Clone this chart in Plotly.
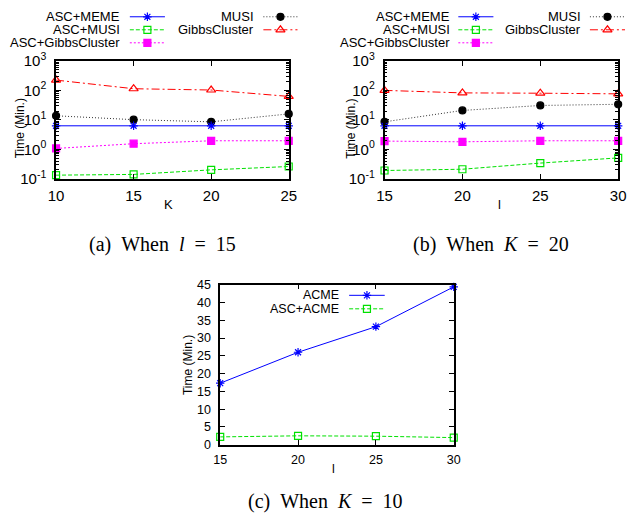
import plotly.graph_objects as go

W, H = 633, 525

# ---------------- data ----------------
K_vals = [10, 15, 20, 25]
a_asc_meme = [6.3, 6.3, 6.3, 6.3]
a_asc_musi = [0.132, 0.14, 0.2, 0.26]
a_asc_gibbs = [1.07, 1.55, 1.95, 1.95]
a_musi = [13.8, 10.2, 8.6, 16.0]
a_gibbs = [226, 115, 104, 63]

l_vals = [15, 20, 25, 30]
b_asc_meme = [6.3, 6.3, 6.3, 6.3]
b_asc_musi = [0.19, 0.21, 0.34, 0.51]
b_asc_gibbs = [1.9, 1.8, 1.95, 1.95]
b_musi = [8.6, 21, 31, 34]
b_gibbs = [101, 83, 81, 77]

c_acme = [17.3, 26.0, 33.2, 44.4]
c_asc_acme = [2.2, 2.5, 2.4, 2.0]

log_tickvals = [0.1, 1, 10, 100, 1000]
log_ticktext = ["10<sup>-1</sup>", "10<sup>0</sup>", "10<sup>1</sup>", "10<sup>2</sup>", "10<sup>3</sup>"]

# ---------------- styles ----------------
BLUE = "#0000ff"
GREEN = "#00e000"
MAGENTA = "#ff00ff"
DARK = "#333333"
RED = "#ff0000"
FONT = "Liberation Sans, Arial, sans-serif"
SERIF = "Liberation Serif, Times New Roman, serif"
LEG_AB = 13
TICK_AB = 15
TXT_C = 12.5

styles = {
    "ASC+MEME": dict(color=BLUE, dash="solid", symbol="asterisk-open", size=7),
    "ASC+MUSI": dict(color=GREEN, dash="4px,2px", symbol="square-open", size=7),
    "ASC+GibbsCluster": dict(color=MAGENTA, dash="2px,2px", symbol="square", size=7),
    "MUSI": dict(color=DARK, dash="1px,2px", symbol="circle", size=7),
    "GibbsCluster": dict(color=RED, dash="8px,3px,2px,3px", symbol="triangle-up-open", size=8),
    "ACME": dict(color=BLUE, dash="solid", symbol="asterisk-open", size=7),
    "ASC+ACME": dict(color=GREEN, dash="4px,2px", symbol="square-open", size=7),
}
marker_colors = {"MUSI": "#000000"}

fig = go.Figure()


def px_x(x):
    return x / W


def px_y(y):
    return 1 - y / H


def add_series(name, xs, ys, xa, ya):
    s = styles[name]
    mc = marker_colors.get(name, s["color"])
    fig.add_trace(go.Scatter(
        x=xs, y=ys, mode="lines+markers", name=name, showlegend=False,
        xaxis=xa, yaxis=ya, cliponaxis=False,
        line=dict(color=s["color"], dash=s["dash"], width=1),
        marker=dict(symbol=s["symbol"], size=s["size"], color=mc,
                    line=dict(color=mc, width=1.2)),
    ))


# subplot (a)
add_series("GibbsCluster", K_vals, a_gibbs, "x", "y")
add_series("MUSI", K_vals, a_musi, "x", "y")
add_series("ASC+GibbsCluster", K_vals, a_asc_gibbs, "x", "y")
add_series("ASC+MUSI", K_vals, a_asc_musi, "x", "y")
add_series("ASC+MEME", K_vals, a_asc_meme, "x", "y")
# subplot (b)
add_series("GibbsCluster", l_vals, b_gibbs, "x2", "y2")
add_series("MUSI", l_vals, b_musi, "x2", "y2")
add_series("ASC+GibbsCluster", l_vals, b_asc_gibbs, "x2", "y2")
add_series("ASC+MUSI", l_vals, b_asc_musi, "x2", "y2")
add_series("ASC+MEME", l_vals, b_asc_meme, "x2", "y2")
# subplot (c)
add_series("ACME", l_vals, c_acme, "x3", "y3")
add_series("ASC+ACME", l_vals, c_asc_acme, "x3", "y3")

# ---------------- legend keys (pixel overlay axis) ----------------
annotations = []


def legend_entry(name, text_right, y, x0, x1, size=LEG_AB):
    s = styles[name]
    mc = marker_colors.get(name, s["color"])
    fig.add_trace(go.Scatter(
        x=[x0, x1], y=[y, y], mode="lines", showlegend=False,
        xaxis="x4", yaxis="y4", cliponaxis=False, hoverinfo="skip",
        line=dict(color=s["color"], dash=s["dash"], width=1),
    ))
    fig.add_trace(go.Scatter(
        x=[(x0 + x1) / 2], y=[y], mode="markers", showlegend=False,
        xaxis="x4", yaxis="y4", cliponaxis=False, hoverinfo="skip",
        marker=dict(symbol=s["symbol"], size=s["size"], color=mc,
                    line=dict(color=mc, width=1.2)),
    ))
    annotations.append(dict(
        x=px_x(text_right), y=px_y(y), xref="paper", yref="paper",
        text=name, showarrow=False, xanchor="right", yanchor="middle",
        font=dict(family=FONT, size=size, color="black"),
    ))


# (a)
legend_entry("ASC+MEME", 117, 6, 125, 161)
legend_entry("ASC+MUSI", 117, 19.5, 125, 161)
legend_entry("ASC+GibbsCluster", 117, 33, 125, 161)
legend_entry("MUSI", 254, 6, 262, 297)
legend_entry("GibbsCluster", 254, 19.5, 262, 297)
# (b)
legend_entry("ASC+MEME", 455.5, 6, 462, 498)
legend_entry("ASC+MUSI", 455.5, 19.5, 462, 498)
legend_entry("ASC+GibbsCluster", 455.5, 33, 462, 498)
legend_entry("MUSI", 590, 6, 597, 633)
legend_entry("GibbsCluster", 590, 19.5, 597, 633)
# (c)
legend_entry("ACME", 341.5, 295, 350, 386.5, size=TXT_C)
legend_entry("ASC+ACME", 341.5, 309, 350, 386.5, size=TXT_C)

# ---------------- axes ----------------
def tf(size):
    return dict(family=FONT, size=size, color="black")


def lin_x(domain, rng, size):
    return dict(domain=domain, range=rng, dtick=5, tick0=rng[0], ticks="inside", ticklen=5,
                tickwidth=1, tickcolor="black", mirror="ticks", showline=True,
                linecolor="black", linewidth=1.5, showgrid=False, zeroline=False,
                tickfont=tf(size), ticklabelstandoff=3)


def log_y(domain, anchor):
    return dict(domain=domain, type="log", range=[-1, 3], tickvals=log_tickvals,
                ticktext=log_ticktext, ticks="inside", ticklen=5, tickwidth=1,
                tickcolor="black", mirror="ticks", showline=True, linecolor="black",
                linewidth=1.5, showgrid=False, zeroline=False, tickfont=tf(TICK_AB),
                anchor=anchor, ticklabelstandoff=5,
                minor=dict(ticks="inside", ticklen=3, tickcolor="black", dtick="D1",
                           showgrid=False))


ya = [px_y(174), px_y(52)]
fig.update_layout(
    xaxis=lin_x([px_x(49.3), px_x(288)], [10, 25], TICK_AB) | dict(anchor="y"),
    yaxis=log_y(ya, "x"),
    xaxis2=lin_x([px_x(386.3), px_x(626)], [15, 30], TICK_AB) | dict(anchor="y2"),
    yaxis2=log_y(ya, "x2"),
    xaxis3=lin_x([px_x(217.7), px_x(457.3)], [15, 30], TXT_C) | dict(anchor="y3"),
    yaxis3=dict(domain=[px_y(450), px_y(284)], range=[0, 45], dtick=5, ticks="inside",
                ticklen=5, tickwidth=1, tickcolor="black", mirror="ticks",
                showline=True, linecolor="black", linewidth=1.5, showgrid=False,
                zeroline=False, tickfont=tf(TXT_C), anchor="x3", ticklabelstandoff=5),
    xaxis4=dict(domain=[0, 1], range=[0, W], visible=False, anchor="y4", fixedrange=True),
    yaxis4=dict(domain=[0, 1], range=[H, 0], visible=False, anchor="x4", fixedrange=True),
)


def text_ann(x, y, text, size=13, family=FONT, angle=0):
    annotations.append(dict(x=px_x(x), y=px_y(y), xref="paper", yref="paper", text=text,
                            showarrow=False, xanchor="center", yanchor="middle",
                            textangle=angle, font=dict(family=family, size=size, color="black")))


text_ann(12, 122, "Time (Min.)", size=12, angle=-90)
text_ann(351, 122, "Time (Min.)", size=12, angle=-90)
text_ann(184, 367, "Time (Min.)", size=12, angle=-90)
text_ann(165, 201, "K")
text_ann(504, 201, "l")
text_ann(334, 475, "l", size=TXT_C)
sp = "&nbsp;"
text_ann(158, 242, f"(a){sp*2}When{sp*2}<i>l</i>{sp*2}={sp*2}15", size=20, family=SERIF)
text_ann(496, 242, f"(b){sp*2}When{sp*2}<i>K</i>{sp*2}={sp*2}20", size=20, family=SERIF)
text_ann(326, 509, f"(c){sp*2}When{sp*2}<i>K</i>{sp*2}={sp*2}10", size=20, family=SERIF)

fig.update_layout(
    width=W, height=H, autosize=False,
    margin=dict(l=0, r=0, t=0, b=0),
    paper_bgcolor="white", plot_bgcolor="rgba(0,0,0,0)",
    showlegend=False, annotations=annotations,
)

fig.write_html(
    "out.html",
    config={"displayModeBar": False},
    post_script="document.body.style.margin='0';document.body.style.overflow='hidden';",
)
